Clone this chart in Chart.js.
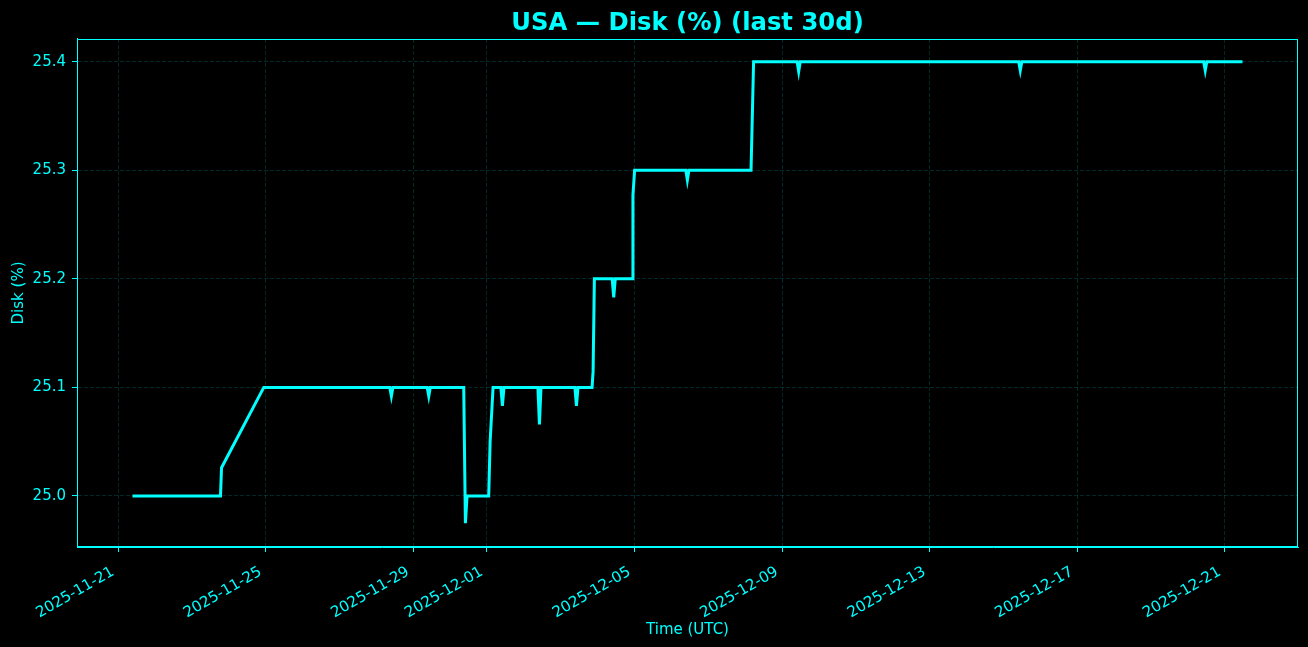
<!DOCTYPE html>
<html>
<head>
<meta charset="utf-8">
<title>USA — Disk (%) (last 30d)</title>
<script src="https://cdn.jsdelivr.net/npm/chart.js@4.4.1/dist/chart.umd.min.js"></script>
<style>
    html, body { margin: 0; padding: 0; background: #000; }
    #wrap { width: 1308px; height: 647px; }
</style>
</head>
<body>
<div id="wrap"><canvas id="diskChart" width="1308" height="647"></canvas></div>
<script>
// 采样时间 (UTC) 和磁盘占用
const times = [
    '2025-11-21 09:25', '2025-11-23 18:40', '2025-11-23 19:20', '2025-11-24 22:50',
    '2025-11-28 08:50', '2025-11-28 09:50', '2025-11-28 10:50',
    '2025-11-29 09:10', '2025-11-29 10:10', '2025-11-29 11:10',
    '2025-11-30 08:55', '2025-11-30 10:00', '2025-11-30 11:05',
    '2025-12-01 01:10', '2025-12-01 02:05', '2025-12-01 04:00',
    '2025-12-01 09:05', '2025-12-01 10:05', '2025-12-01 11:05',
    '2025-12-02 09:10', '2025-12-02 10:10', '2025-12-02 11:10',
    '2025-12-03 09:15', '2025-12-03 10:15', '2025-12-03 11:15',
    '2025-12-03 20:25', '2025-12-03 21:05', '2025-12-03 21:55',
    '2025-12-04 09:30', '2025-12-04 10:30', '2025-12-04 11:30',
    '2025-12-04 22:25', '2025-12-04 23:00', '2025-12-05 00:05',
    '2025-12-06 09:25', '2025-12-06 10:25', '2025-12-06 11:25',
    '2025-12-08 03:50', '2025-12-08 05:30',
    '2025-12-09 09:50', '2025-12-09 10:50', '2025-12-09 11:50',
    '2025-12-15 10:00', '2025-12-15 11:00', '2025-12-15 12:00',
    '2025-12-20 10:20', '2025-12-20 11:20', '2025-12-20 12:20',
    '2025-12-21 11:35'
];
const disk = [
    25.0, 25.0, 25.026, 25.1,
    25.1, 25.092, 25.1,
    25.1, 25.092, 25.1,
    25.1, 24.975, 25.0,
    25.0, 25.05, 25.1,
    25.1, 25.083, 25.1,
    25.1, 25.066, 25.1,
    25.1, 25.083, 25.1,
    25.1, 25.115, 25.2,
    25.2, 25.183, 25.2,
    25.2, 25.277, 25.3,
    25.3, 25.291, 25.3,
    25.3, 25.4,
    25.4, 25.391, 25.4,
    25.4, 25.392, 25.4,
    25.4, 25.392, 25.4,
    25.4
];

// 坐标轴刻度
const xTickDates = [
    '2025-11-21', '2025-11-25', '2025-11-29', '2025-12-01', '2025-12-05',
    '2025-12-09', '2025-12-13', '2025-12-17', '2025-12-21'
];
const yTicks = [25.0, 25.1, 25.2, 25.3, 25.4];

const CYAN = '#00ffff';
const FONT = "'DejaVu Sans', sans-serif";

function toMs(s) {
    return Date.parse(s.replace(' ', 'T') + (s.length > 10 ? ':00Z' : 'T00:00:00Z'));
}

function fmtDate(ms) {
    return new Date(ms).toISOString().slice(0, 10);
}

const points = times.map((t, i) => ({ x: toMs(t), y: disk[i] }));

// 与 matplotlib 一样左右留 5% 边距
const xFirst = points[0].x;
const xLast = points[points.length - 1].x;
const xPad = (xLast - xFirst) * 0.05;

// 画背景和四周边框
const framePlugin = {
    id: 'frame',
    beforeDraw(chart) {
        const c = chart.ctx;
        c.save();
        c.fillStyle = '#000';
        c.fillRect(0, 0, chart.width, chart.height);
        c.restore();
    },
    afterDraw(chart) {
        const a = chart.chartArea;
        const c = chart.ctx;
        c.save();
        c.strokeStyle = CYAN;
        c.lineWidth = 1;
        c.strokeRect(Math.round(a.left) + 0.5, Math.round(a.top) + 0.5,
            Math.round(a.right - a.left) - 1, Math.round(a.bottom - a.top) - 1);
        c.restore();
    }
};

const gridOpts = {
    color: 'rgba(0, 255, 255, 0.2)',
    lineWidth: 0.8,
    tickColor: CYAN,
    tickWidth: 1,
    tickLength: 5,
    tickBorderDash: []
};

new Chart(document.getElementById('diskChart'), {
    type: 'line',
    data: {
        datasets: [{
            label: 'Disk (%)',
            data: points,
            borderColor: CYAN,
            borderWidth: 3,
            pointRadius: 0,
            tension: 0,
            fill: false
        }]
    },
    options: {
        responsive: false,
        animation: false,
        devicePixelRatio: 1,
        layout: { padding: { left: 0, right: 10, top: 0, bottom: 0 } },
        plugins: {
            legend: { display: false },
            tooltip: { enabled: false },
            title: {
                display: true,
                fullSize: false,
                text: 'USA — Disk (%) (last 30d)',
                color: CYAN,
                font: { family: FONT, size: 24.3, weight: 'bold', lineHeight: 1.2 },
                padding: { top: 9, bottom: 0.8 }
            }
        },
        scales: {
            x: {
                type: 'linear',
                min: xFirst - xPad,
                max: xLast + xPad,
                afterBuildTicks: function (scale) {
                    scale.ticks = xTickDates.map(d => ({ value: toMs(d) }));
                },
                afterFit: function (scale) {
                    scale.height = 100;
                },
                ticks: {
                    color: CYAN,
                    font: { family: FONT, size: 15 },
                    autoSkip: false,
                    minRotation: 30,
                    maxRotation: 30,
                    padding: 11,
                    labelOffset: -5,
                    callback: function (value) {
                        return fmtDate(value);
                    }
                },
                grid: gridOpts,
                border: { display: true, color: CYAN, width: 1, dash: [4, 2] },
                title: {
                    display: true,
                    text: 'Time (UTC)',
                    color: CYAN,
                    font: { family: FONT, size: 15 },
                    padding: { top: 4, bottom: 8 }
                }
            },
            y: {
                type: 'linear',
                min: 24.953,
                max: 25.421,
                afterBuildTicks: function (scale) {
                    scale.ticks = yTicks.map(v => ({ value: v }));
                },
                afterFit: function (scale) {
                    scale.width = 77;
                },
                ticks: {
                    color: CYAN,
                    font: { family: FONT, size: 15 },
                    padding: 6,
                    callback: function (value) {
                        return Number(value).toFixed(1);
                    }
                },
                grid: gridOpts,
                border: { display: true, color: CYAN, width: 1, dash: [4, 2] },
                title: {
                    display: true,
                    text: 'Disk (%)',
                    color: CYAN,
                    font: { family: FONT, size: 15 },
                    padding: { top: 10, bottom: 4 }
                }
            }
        }
    },
    plugins: [framePlugin]
});
</script>
</body>
</html>
